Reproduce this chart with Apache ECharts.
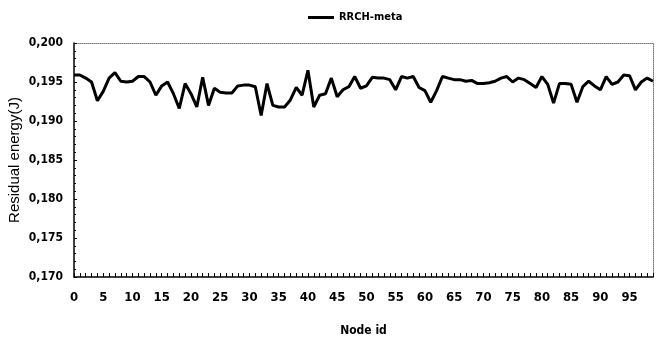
<!DOCTYPE html>
<html>
<head>
<meta charset="utf-8">
<script src="https://cdn.jsdelivr.net/npm/echarts@6/dist/echarts.min.js"></script>
<style>
  html, body { margin: 0; padding: 0; background: #fff; }
  #chart { width: 659px; height: 349px; }
</style>
</head>
<body>
<div id="chart"></div>
<script>
  // node ids 0..99
  var nodeIds = []
  for (var i = 0; i < 100; i++) nodeIds.push(String(i))

  // residual energy per node (J)
  var energy = [
    0.1959, 0.1959, 0.1955, 0.1950, 0.1926, 0.1938, 0.1955, 0.1962, 0.1951, 0.1950,
    0.1951, 0.1957, 0.1957, 0.1950, 0.1933, 0.1945, 0.1950, 0.1935, 0.1916, 0.1948,
    0.1935, 0.1918, 0.1956, 0.1920, 0.1942, 0.1937, 0.1936, 0.1936, 0.1945, 0.1946,
    0.1946, 0.1944, 0.1907, 0.1948, 0.1920, 0.1918, 0.1918, 0.1927, 0.1943, 0.1933,
    0.1965, 0.1918, 0.1933, 0.1935, 0.1955, 0.1931, 0.1940, 0.1944, 0.1957, 0.1942,
    0.1945, 0.1956, 0.1955, 0.1955, 0.1953, 0.1940, 0.1957, 0.1955, 0.1957, 0.1943,
    0.1939, 0.1924, 0.1939, 0.1957, 0.1955, 0.1953, 0.1953, 0.1951, 0.1952, 0.1948,
    0.1948, 0.1949, 0.1951, 0.1955, 0.1957, 0.1950, 0.1955, 0.1953, 0.1948, 0.1943,
    0.1957, 0.1947, 0.1923, 0.1948, 0.1948, 0.1947, 0.1924, 0.1944, 0.1951, 0.1945,
    0.1940, 0.1957, 0.1947, 0.1950, 0.1959, 0.1958, 0.1940, 0.1950, 0.1955, 0.1951
  ]

  var seriesName = 'RRCH-meta'
  var narrow = '"DejaVu Sans Condensed", "Liberation Sans Narrow", sans-serif'

  var chart = echarts.init(document.getElementById('chart'))

  chart.setOption({
    animation: false,
    backgroundColor: '#fff',
    legend: {
      left: 303,
      top: 7,
      icon: 'rect',
      itemWidth: 26,
      itemHeight: 3,
      itemGap: 2,
      textStyle: { fontFamily: narrow, fontWeight: 'bold', fontSize: 11, color: '#000' },
      data: [seriesName]
    },
    grid: { left: 74, right: 6, top: 43, bottom: 72, outerBoundsMode: 'none' },
    xAxis: [{
      type: 'category',
      data: nodeIds,
      boundaryGap: false,
      name: 'Node id',
      nameLocation: 'middle',
      nameGap: 48,
      nameTextStyle: { fontFamily: narrow, fontWeight: 'bold', fontSize: 12, color: '#000' },
      axisLine: { lineStyle: { color: '#000', width: 1.5 } },
      axisTick: { inside: true, length: 4, interval: 0, lineStyle: { color: '#000' } },
      axisLabel: { interval: 4, margin: 14, fontFamily: narrow, fontWeight: 'bold', fontSize: 13, color: '#000' },
      splitLine: { show: false }
    }, {
      type: 'category',
      data: nodeIds,
      boundaryGap: false,
      position: 'top',
      axisLine: { lineStyle: { color: '#777', type: 'dotted', width: 1 } },
      axisTick: { show: false },
      axisLabel: { show: false }
    }],
    yAxis: [{
      type: 'value',
      min: 0.170,
      max: 0.200,
      interval: 0.005,
      name: 'Residual energy(J)',
      nameLocation: 'middle',
      nameGap: 52,
      nameMoveOverlap: false,
      nameTextStyle: { fontFamily: 'Liberation Sans, Arial, sans-serif', fontSize: 15, color: '#000' },
      axisLine: { show: true, lineStyle: { color: '#000', width: 1.5 } },
      axisTick: { show: true, inside: true, length: 3, lineStyle: { color: '#000' } },
      minorTick: { show: true, splitNumber: 5, length: 2, lineStyle: { color: '#000' } },
      axisLabel: {
        margin: 11,
        fontFamily: narrow,
        fontWeight: 'bold',
        fontSize: 12,
        color: '#000',
        formatter: function (v) { return v.toFixed(3).replace('.', ',') }
      },
      splitLine: { show: false }
    }, {
      type: 'value',
      min: 0.170,
      max: 0.200,
      interval: 0.005,
      position: 'right',
      axisLine: { show: true, lineStyle: { color: '#777', type: 'dotted', width: 1 } },
      axisTick: { show: false },
      axisLabel: { show: false },
      splitLine: { show: false }
    }],
    series: [{
      name: seriesName,
      type: 'line',
      data: energy,
      symbol: 'none',
      lineStyle: { color: '#000', width: 3 },
      itemStyle: { color: '#000' }
    }]
  })
</script>
</body>
</html>
